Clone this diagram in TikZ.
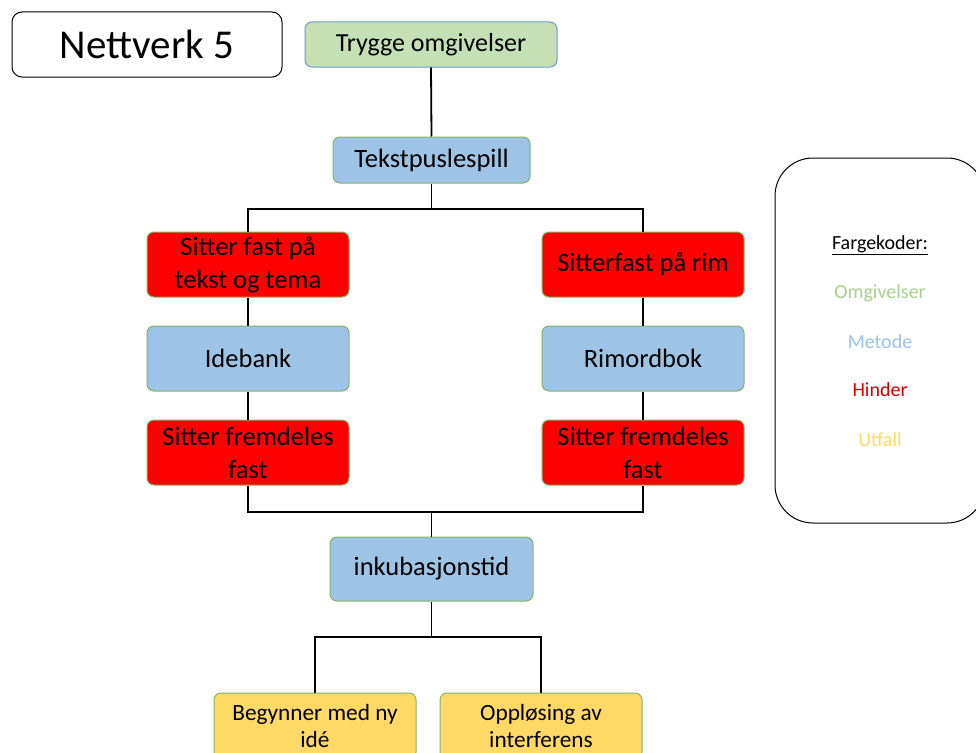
\documentclass[tikz,border=0pt]{standalone}
\usepackage{fontspec}
\setmainfont{Carlito}
\definecolor{gfill}{HTML}{C5E0B4}
\definecolor{bfill}{HTML}{9DC3E6}
\definecolor{rfill}{HTML}{FF0000}
\definecolor{yfill}{HTML}{FFD966}
\definecolor{gborder}{HTML}{82B366}
\definecolor{bborder}{HTML}{6C9BCF}
\definecolor{legG}{HTML}{A9D18E}
\definecolor{legB}{HTML}{9DC3E6}
\definecolor{legR}{HTML}{D00000}
\definecolor{legY}{HTML}{FFD966}
\tikzset{
  box/.style={draw=gborder, line width=1pt, rounded corners=7pt, align=center,
    font=\fontsize{26.5}{33}\selectfont, inner sep=2pt},
  wbox/.style={box, minimum width=202pt, minimum height=65pt},
  ybox/.style={box, fill=yfill, minimum width=202pt, minimum height=66pt,
    font=\fontsize{23.3}{27}\selectfont},
  legtext/.style={font=\fontsize{20}{24}\selectfont},
  conn/.style={line width=1.8pt, black}
}
\begin{document}
\begin{tikzpicture}[x=1pt,y=-1pt]
\useasboundingbox[fill=white] (0,0) rectangle (976,752);
\node[draw=black, line width=1pt, rounded corners=10pt, minimum width=270pt, minimum height=65pt,
  font=\fontsize{41}{48}\selectfont] (title) at (147,44.5) {Nettverk 5};
\node[box, draw=bborder, fill=gfill, minimum width=252pt, minimum height=45pt, font=\fontsize{26}{31}\selectfont] (trygg) at (431,44.5) {Trygge omgivelser};
\node[box, fill=bfill, minimum width=197pt, minimum height=46pt] (tekst) at (431.5,160) {Tekstpuslespill};
\node[wbox, fill=rfill] (l1) at (248,264.5) {Sitter fast på\\tekst og tema};
\node[wbox, fill=rfill] (r1) at (643,264.5) {Sitterfast på rim};
\node[wbox, fill=bfill] (l2) at (248,358.5) {Idebank};
\node[wbox, fill=bfill] (r2) at (643,358.5) {Rimordbok};
\node[wbox, fill=rfill] (l3) at (248,452.5) {Sitter fremdeles\\fast};
\node[wbox, fill=rfill] (r3) at (643,452.5) {Sitter fremdeles\\fast};
\node[box, fill=bfill, minimum width=203pt, minimum height=64pt] (ink) at (431.5,569) {inkubasjonstid};
\node[ybox] (y1) at (315,726) {Begynner med ny\\idé};
\node[ybox] (y2) at (541,726) {Oppløsing av\\interferens};
% connectors
\draw[conn] (trygg.south) -- (tekst.north);
\coordinate (s1) at (431.5,209);
\draw[conn] (tekst.south) -- (s1);
\draw[conn] (l1.north) |- (s1) -| (r1.north);
\draw[conn] (l1) -- (l2);
\draw[conn] (l2) -- (l3);
\draw[conn] (r1) -- (r2);
\draw[conn] (r2) -- (r3);
\coordinate (s2) at (431.5,512);
\draw[conn] (l3.south) |- (s2) -| (r3.south);
\draw[conn] (s2) -- (ink.north);
\coordinate (s3) at (431.5,637);
\draw[conn] (ink.south) -- (s3);
\draw[conn] (s3) -| (y1.north);
\draw[conn] (s3) -| (y2.north);
% legend
\node[draw=black, line width=1pt, rounded corners=38pt, minimum width=210pt, minimum height=365pt] (leg) at (880,340.5) {};
\node[legtext] (lf) at (880,245) {\underline{Fargekoder:}};
\node[legtext, text=legG] (lo) at (880,293) {Omgivelser};
\node[legtext, text=legB] (lm) at (880,342) {Metode};
\node[legtext, text=legR] (lh) at (880,390) {Hinder};
\node[legtext, text=legY] (lu) at (880,440) {Utfall};
\end{tikzpicture}
\end{document}
